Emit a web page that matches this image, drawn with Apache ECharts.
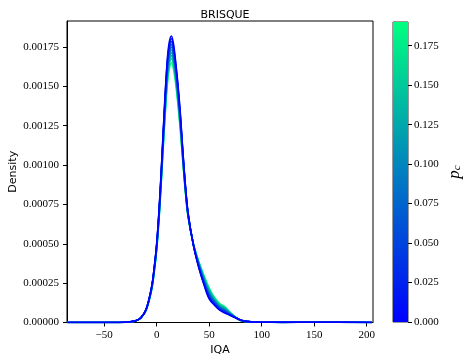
<!DOCTYPE html>
<html>
<head>
<meta charset="utf-8">
<script src="https://cdn.jsdelivr.net/npm/echarts@6/dist/echarts.min.js"></script>
<style>
  html, body { margin: 0; padding: 0; background: #fff; }
  #chart { width: 468px; height: 363px; }
</style>
</head>
<body>
<div id="chart"></div>
<script>
// IQA grid the densities were read at
const iqaGrid = [-85, -40, -30, -25, -20, -15, -10, -5, -2.5, 0, 2.5, 5, 7.5, 10, 12, 14, 16, 18, 20,
  22.5, 25, 27.5, 30, 35, 40, 45, 50, 55, 60, 65, 70, 75, 80, 85, 90, 100, 120, 150, 205];

// p_c value of each curve
const pcValues = [0, 0.02, 0.04, 0.06, 0.08, 0.10, 0.12, 0.14, 0.16, 0.19];

// densities, in units of 1e-6, one list per p_c value
const dens000 = [0, 0, 2, 5, 11, 30, 85, 220, 340, 500, 740, 1050, 1380, 1660, 1780, 1820, 1770, 1660, 1530,
  1330, 1080, 860, 690, 490, 350, 240, 150, 110, 78, 60, 45, 30, 16, 7, 4, 2, 1, 2, 0];
const dens002 = [0, 0, 2, 5, 11, 30, 84, 218, 337, 496, 734, 1041, 1366, 1643, 1762, 1802, 1753, 1645, 1516,
  1318, 1073, 855, 687, 491, 354, 246, 157, 115, 82, 64, 47, 31, 16, 7, 4, 2, 1, 2, 0];
const dens004 = [0, 0, 2, 5, 11, 30, 84, 216, 334, 492, 727, 1031, 1353, 1626, 1744, 1784, 1736, 1631, 1503,
  1307, 1065, 851, 685, 492, 358, 253, 165, 121, 87, 68, 49, 31, 15, 7, 4, 2, 1, 2, 0];
const dens006 = [0, 0, 2, 5, 11, 30, 83, 214, 331, 487, 721, 1022, 1339, 1609, 1726, 1766, 1719, 1616, 1489,
  1295, 1058, 846, 682, 493, 363, 259, 172, 126, 91, 73, 51, 32, 15, 7, 4, 2, 1, 2, 0];
const dens008 = [0, 0, 2, 5, 11, 30, 83, 212, 327, 483, 715, 1012, 1325, 1593, 1709, 1749, 1703, 1601, 1475,
  1284, 1051, 841, 679, 494, 367, 265, 179, 131, 96, 77, 53, 32, 15, 7, 4, 2, 1, 2, 0];
const dens010 = [0, 0, 2, 5, 11, 30, 82, 210, 324, 479, 708, 1003, 1312, 1576, 1691, 1731, 1686, 1586, 1462,
  1272, 1043, 836, 677, 495, 371, 272, 187, 136, 100, 81, 56, 33, 14, 7, 4, 2, 1, 2, 0];
const dens012 = [0, 0, 2, 5, 11, 30, 82, 207, 321, 475, 702, 993, 1298, 1559, 1673, 1713, 1669, 1572, 1448,
  1261, 1036, 832, 674, 496, 375, 278, 194, 142, 104, 85, 58, 33, 14, 7, 4, 2, 1, 2, 0];
const dens014 = [0, 0, 2, 5, 11, 30, 81, 205, 318, 471, 696, 984, 1284, 1542, 1655, 1695, 1652, 1557, 1434,
  1249, 1028, 827, 672, 497, 379, 284, 202, 147, 109, 89, 60, 34, 14, 7, 4, 2, 1, 2, 0];
const dens016 = [0, 0, 2, 5, 11, 30, 81, 203, 315, 466, 690, 974, 1271, 1526, 1637, 1677, 1636, 1542, 1421,
  1238, 1021, 822, 669, 498, 384, 290, 209, 152, 113, 94, 62, 34, 13, 7, 4, 2, 1, 2, 0];
const dens019 = [0, 0, 2, 5, 10, 30, 80, 200, 310, 460, 680, 960, 1250, 1500, 1610, 1650, 1610, 1520, 1400,
  1220, 1010, 815, 665, 500, 390, 300, 220, 160, 120, 100, 65, 35, 13, 5, 3, 2, 1, 2, 0];

const densities = [dens000, dens002, dens004, dens006, dens008, dens010, dens012, dens014, dens016, dens019];

const yTicks = [0, 0.00025, 0.0005, 0.00075, 0.001, 0.00125, 0.0015, 0.00175];
const xTicks = [-50, 0, 50, 100, 150, 200];
const cbTicks = [0, 0.025, 0.05, 0.075, 0.1, 0.125, 0.15, 0.175];
const pcMax = 0.19;

const SERIF = "'Liberation Serif', 'DejaVu Serif', serif";
const SANS = "'DejaVu Sans', sans-serif";

// matplotlib "winter" colormap
function winter(t) {
  const g = Math.round(255 * t);
  const b = Math.round(255 * (1 - 0.5 * t));
  return "rgb(0," + g + "," + b + ")";
}

function minus(s) {
  return String(s).replace("-", "\u2212");
}

var myChart = echarts.init(document.getElementById("chart"));

// green curves first so the blue ones end up on top
let curves = [];
for (let i = pcValues.length - 1; i >= 0; i--) {
  curves.push({
    type: "line",
    xAxisIndex: 0,
    yAxisIndex: 0,
    data: iqaGrid.map((x, k) => [x, densities[i][k] * 1e-6]),
    smooth: 0.35,
    showSymbol: false,
    lineStyle: { color: winter(pcValues[i] / pcMax), width: 1.6 },
    silent: true,
  });
}

var option = {
  animation: false,
  title: {
    text: "BRISQUE",
    left: 220,
    top: 5,
    textAlign: "center",
    textStyle: { fontFamily: SANS, fontSize: 11, fontWeight: "normal", color: "#000" },
  },
  grid: [
    {
      left: 67, top: 21, width: 306, height: 301.5,
      outerBoundsMode: "none", containLabel: false,
      show: true, borderColor: "#000", borderWidth: 1,
    },
    {
      left: 393, top: 22, width: 15, height: 300,
      outerBoundsMode: "none", containLabel: false,
      show: true, borderColor: "#333", borderWidth: 1,
    },
  ],
  xAxis: [
    {
      type: "value",
      gridIndex: 0,
      min: -85.4,
      max: 206,
      name: "IQA",
      nameLocation: "middle",
      nameGap: 22,
      nameMoveOverlap: false,
      nameTextStyle: { fontFamily: SANS, fontSize: 11, color: "#000" },
      axisLine: { onZero: false, lineStyle: { color: "#000" } },
      axisTick: { length: 4, customValues: xTicks, lineStyle: { color: "#000" } },
      axisLabel: {
        customValues: xTicks,
        margin: 7,
        fontFamily: SERIF,
        fontSize: 11,
        color: "#000",
        formatter: (v) => minus(v),
      },
      splitLine: { show: false },
    },
    {
      type: "category",
      gridIndex: 1,
      data: ["pc"],
      show: false,
    },
  ],
  yAxis: [
    {
      type: "value",
      gridIndex: 0,
      min: 0,
      max: 0.001915,
      name: "Density",
      nameLocation: "middle",
      nameGap: 48,
      nameMoveOverlap: false,
      nameTextStyle: { fontFamily: SANS, fontSize: 11, color: "#000" },
      axisLine: { show: true, onZero: false, lineStyle: { color: "#000" } },
      axisTick: { show: true, length: 4, customValues: yTicks, lineStyle: { color: "#000" } },
      axisLabel: {
        customValues: yTicks,
        margin: 8,
        fontFamily: SERIF,
        fontSize: 11,
        color: "#000",
        formatter: (v) => v.toFixed(5),
      },
      splitLine: { show: false },
    },
    {
      type: "value",
      gridIndex: 1,
      position: "right",
      min: 0,
      max: pcMax,
      name: "{p|p}{c|c}",
      nameLocation: "middle",
      nameRotate: 90,
      nameGap: 35,
      nameMoveOverlap: false,
      nameTextStyle: {
        color: "#000",
        rich: {
          p: { fontFamily: SERIF, fontStyle: "italic", fontSize: 17, lineHeight: 20, verticalAlign: "bottom", color: "#000" },
          c: { fontFamily: SERIF, fontStyle: "italic", fontSize: 11, lineHeight: 7, verticalAlign: "bottom", color: "#000" },
        },
      },
      axisLine: { show: false },
      axisTick: { show: true, length: 4, customValues: cbTicks, lineStyle: { color: "#000" } },
      axisLabel: {
        customValues: cbTicks,
        margin: 6,
        fontFamily: SERIF,
        fontSize: 11,
        color: "#000",
        formatter: (v) => v.toFixed(3),
      },
      splitLine: { show: false },
    },
  ],
  series: curves.concat([
    {
      type: "bar",
      xAxisIndex: 1,
      yAxisIndex: 1,
      data: [pcMax],
      barWidth: "100%",
      silent: true,
      itemStyle: {
        color: {
          type: "linear",
          x: 0, y: 1, x2: 0, y2: 0,
          colorStops: [
            { offset: 0, color: winter(0) },
            { offset: 1, color: winter(1) },
          ],
        },
      },
    },
  ]),
};

myChart.setOption(option);
</script>
</body>
</html>
